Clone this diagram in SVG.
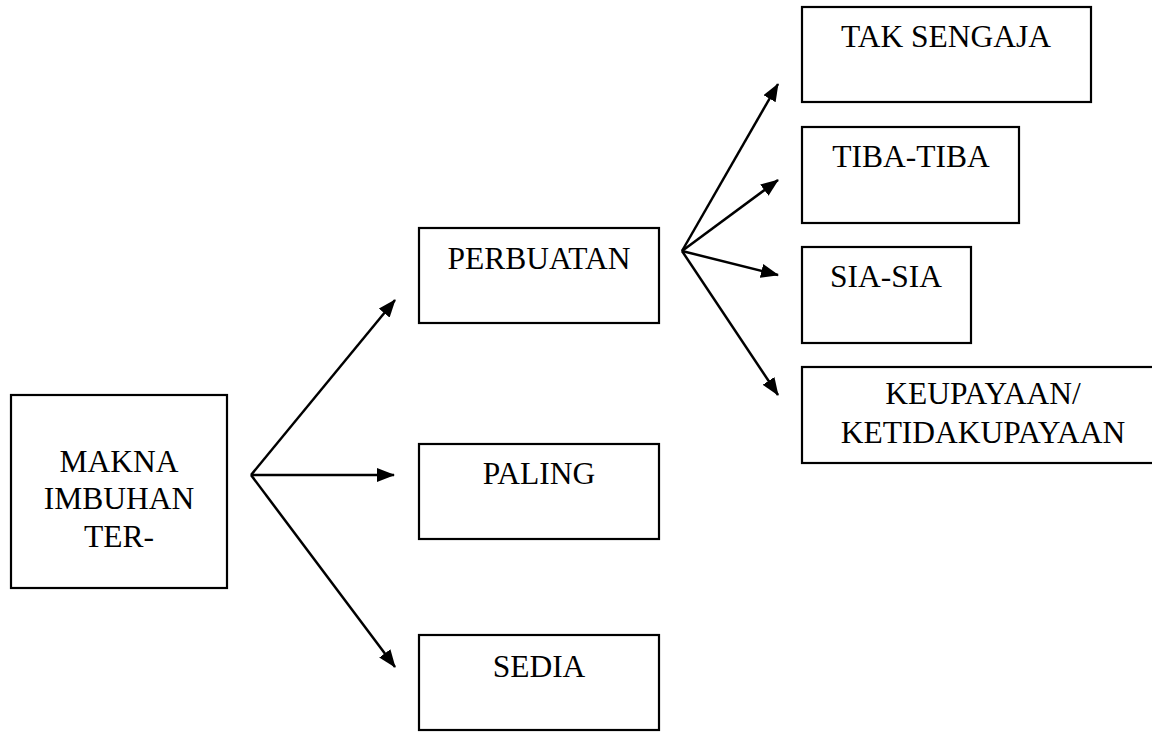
<svg xmlns="http://www.w3.org/2000/svg" width="1152" height="732" viewBox="0 0 1152 732">
<style>
.box{fill:#fff;stroke:#000;stroke-width:2.2}
.lbl{font-family:"Liberation Serif","Times New Roman",serif;font-size:31.5px;fill:#000;text-anchor:middle}
.con{stroke:#000;stroke-width:2.5;fill:none;marker-end:url(#ah)}
</style>
<defs>
<marker id="ah" markerWidth="18" markerHeight="14" refX="17" refY="7" orient="auto" markerUnits="userSpaceOnUse">
<path d="M0,0 L18,7 L0,14 Z" fill="#000"/>
</marker>
</defs>
<rect width="1152" height="732" fill="#fff"/>
<g id="connectors">
<line class="con" x1="251" y1="475" x2="395" y2="300"/>
<line class="con" x1="251" y1="475" x2="394" y2="475"/>
<line class="con" x1="251" y1="475" x2="395" y2="667"/>
<line class="con" x1="682" y1="251" x2="778" y2="84"/>
<line class="con" x1="682" y1="251" x2="778" y2="180"/>
<line class="con" x1="682" y1="251" x2="778" y2="275"/>
<line class="con" x1="682" y1="251" x2="778" y2="395"/>
</g>
<g id="makna">
<rect class="box" x="11" y="395" width="216" height="193"/>
<text class="lbl" x="119" y="472">MAKNA</text>
<text class="lbl" x="119" y="509">IMBUHAN</text>
<text class="lbl" x="119" y="547">TER-</text>
</g>
<g id="perbuatan">
<rect class="box" x="419" y="228" width="240" height="95"/>
<text class="lbl" x="539" y="269">PERBUATAN</text>
</g>
<g id="paling">
<rect class="box" x="419" y="444" width="240" height="95"/>
<text class="lbl" x="539" y="484">PALING</text>
</g>
<g id="sedia">
<rect class="box" x="419" y="635" width="240" height="95"/>
<text class="lbl" x="539" y="677">SEDIA</text>
</g>
<g id="tak-sengaja">
<rect class="box" x="802" y="7" width="289" height="95"/>
<text class="lbl" x="946" y="47">TAK SENGAJA</text>
</g>
<g id="tiba-tiba">
<rect class="box" x="802" y="127" width="217" height="96"/>
<text class="lbl" x="911" y="167">TIBA-TIBA</text>
</g>
<g id="sia-sia">
<rect class="box" x="802" y="247" width="169" height="96"/>
<text class="lbl" x="886" y="287">SIA-SIA</text>
</g>
<g id="keupayaan">
<rect class="box" x="802" y="367" width="362" height="96"/>
<text class="lbl" x="983" y="404">KEUPAYAAN/</text>
<text class="lbl" x="983" y="443">KETIDAKUPAYAAN</text>
</g>
</svg>
